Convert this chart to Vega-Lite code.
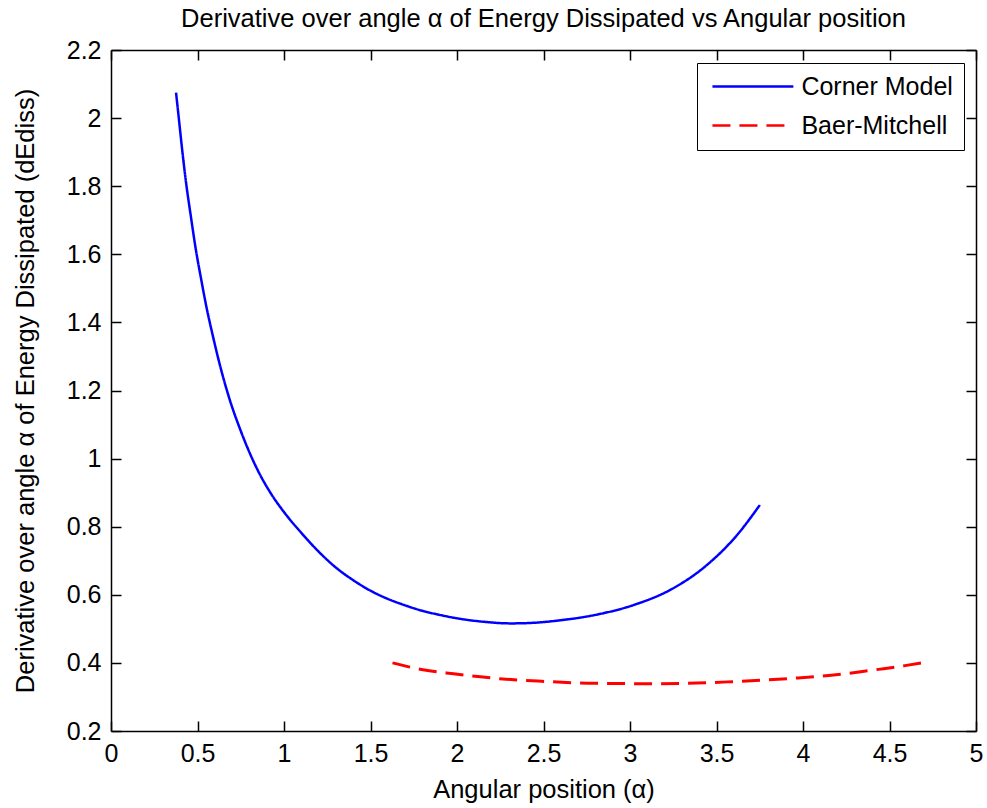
{
  "$schema": "https://vega.github.io/schema/vega-lite/v6.json",
  "width": 865,
  "height": 681,
  "autosize": {"type": "none"},
  "padding": {"left": 111, "top": 50, "right": 11, "bottom": 77},
  "background": "white",
  "title": {
    "text": "Derivative over angle α of Energy Dissipated vs Angular position",
    "fontSize": 25.5,
    "font": "Liberation Sans",
    "fontWeight": "normal",
    "color": "black",
    "anchor": "middle",
    "frame": "group",
    "offset": 6
  },
  "config": {
    "view": {"stroke": null},
    "axis": {
      "domainColor": "black",
      "domainWidth": 1.5,
      "tickColor": "black",
      "tickWidth": 1.5,
      "tickSize": -10,
      "labelFont": "Liberation Sans",
      "labelFontSize": 25,
      "labelColor": "black",
      "labelPadding": 20,
      "labelFlush": false,
      "labelOverlap": false,
      "titleFont": "Liberation Sans",
      "titleFontSize": 25.5,
      "titleFontWeight": "normal",
      "titleColor": "black",
      "grid": false
    },
    "legend": {
      "orient": "none",
      "legendX": 586,
      "legendY": 13,
      "strokeColor": "black",
      "fillColor": "white",
      "padding": 11,
      "rowPadding": 13,
      "symbolType": "M-5,0H5",
      "symbolSize": 262,
      "symbolStrokeWidth": 2.5,
      "symbolOffset": 32.4,
      "labelFont": "Liberation Sans",
      "labelFontSize": 25,
      "labelColor": "black",
      "labelOffset": 36,
      "cornerRadius": 0
    }
  },
  "data": {
    "values": [
      {"series": "Corner Model", "x": 0.376, "y": 2.075},
      {"series": "Corner Model", "x": 0.395, "y": 1.985},
      {"series": "Corner Model", "x": 0.414, "y": 1.895},
      {"series": "Corner Model", "x": 0.434, "y": 1.81},
      {"series": "Corner Model", "x": 0.462, "y": 1.71},
      {"series": "Corner Model", "x": 0.491, "y": 1.612},
      {"series": "Corner Model", "x": 0.52, "y": 1.53},
      {"series": "Corner Model", "x": 0.549, "y": 1.452},
      {"series": "Corner Model", "x": 0.588, "y": 1.362},
      {"series": "Corner Model", "x": 0.636, "y": 1.262},
      {"series": "Corner Model", "x": 0.682, "y": 1.18},
      {"series": "Corner Model", "x": 0.751, "y": 1.08},
      {"series": "Corner Model", "x": 0.848, "y": 0.966},
      {"series": "Corner Model", "x": 0.93, "y": 0.893},
      {"series": "Corner Model", "x": 1.0, "y": 0.843},
      {"series": "Corner Model", "x": 1.1, "y": 0.782},
      {"series": "Corner Model", "x": 1.2, "y": 0.727},
      {"series": "Corner Model", "x": 1.3, "y": 0.68},
      {"series": "Corner Model", "x": 1.4, "y": 0.643},
      {"series": "Corner Model", "x": 1.5, "y": 0.612},
      {"series": "Corner Model", "x": 1.6, "y": 0.588},
      {"series": "Corner Model", "x": 1.7, "y": 0.569},
      {"series": "Corner Model", "x": 1.8, "y": 0.553},
      {"series": "Corner Model", "x": 1.9, "y": 0.541},
      {"series": "Corner Model", "x": 2.0, "y": 0.531},
      {"series": "Corner Model", "x": 2.15, "y": 0.521},
      {"series": "Corner Model", "x": 2.313, "y": 0.516},
      {"series": "Corner Model", "x": 2.45, "y": 0.518},
      {"series": "Corner Model", "x": 2.578, "y": 0.524},
      {"series": "Corner Model", "x": 2.8, "y": 0.541},
      {"series": "Corner Model", "x": 3.021, "y": 0.57},
      {"series": "Corner Model", "x": 3.242, "y": 0.617},
      {"series": "Corner Model", "x": 3.441, "y": 0.686},
      {"series": "Corner Model", "x": 3.618, "y": 0.775},
      {"series": "Corner Model", "x": 3.751, "y": 0.864},
      {"series": "Baer-Mitchell", "x": 1.627, "y": 0.4},
      {"series": "Baer-Mitchell", "x": 1.803, "y": 0.38},
      {"series": "Baer-Mitchell", "x": 1.98, "y": 0.368},
      {"series": "Baer-Mitchell", "x": 2.135, "y": 0.359},
      {"series": "Baer-Mitchell", "x": 2.312, "y": 0.351},
      {"series": "Baer-Mitchell", "x": 2.489, "y": 0.346},
      {"series": "Baer-Mitchell", "x": 2.8, "y": 0.34},
      {"series": "Baer-Mitchell", "x": 3.11, "y": 0.339},
      {"series": "Baer-Mitchell", "x": 3.331, "y": 0.34},
      {"series": "Baer-Mitchell", "x": 3.596, "y": 0.345},
      {"series": "Baer-Mitchell", "x": 3.795, "y": 0.35},
      {"series": "Baer-Mitchell", "x": 3.949, "y": 0.355},
      {"series": "Baer-Mitchell", "x": 4.148, "y": 0.363},
      {"series": "Baer-Mitchell", "x": 4.303, "y": 0.372},
      {"series": "Baer-Mitchell", "x": 4.436, "y": 0.381},
      {"series": "Baer-Mitchell", "x": 4.59, "y": 0.392},
      {"series": "Baer-Mitchell", "x": 4.723, "y": 0.403}
    ]
  },
  "layer": [
    {
      "transform": [{"filter": "datum.series === 'Corner Model'"}],
      "mark": {"type": "line", "strokeWidth": 2.5, "interpolate": "monotone"},
      "encoding": {
        "x": {
          "field": "x", "type": "quantitative",
          "scale": {"domain": [0, 5], "nice": false, "zero": false},
          "axis": {"orient": "bottom", "title": "Angular position (α)", "values": [0, 0.5, 1, 1.5, 2, 2.5, 3, 3.5, 4, 4.5, 5], "format": "~g", "titlePadding": 11}
        },
        "y": {
          "field": "y", "type": "quantitative",
          "scale": {"domain": [0.2, 2.2], "nice": false, "zero": false},
          "axis": {"orient": "left", "title": "Derivative over angle  α  of Energy Dissipated (dEdiss)", "values": [0.2, 0.4, 0.6, 0.8, 1, 1.2, 1.4, 1.6, 1.8, 2, 2.2], "format": "~g", "titlePadding": 28}
        },
        "color": {
          "field": "series", "type": "nominal",
          "scale": {"domain": ["Corner Model", "Baer-Mitchell"], "range": ["#0000ff", "#ff0000"]},
          "legend": {"title": null}
        },
        "strokeDash": {
          "field": "series", "type": "nominal",
          "scale": {"domain": ["Corner Model", "Baer-Mitchell"], "range": [[1, 0], [18, 9]]},
          "legend": {"title": null}
        }
      }
    },
    {
      "transform": [{"filter": "datum.series === 'Baer-Mitchell'"}],
      "mark": {"type": "line", "strokeWidth": 3, "interpolate": "monotone"},
      "encoding": {
        "x": {
          "field": "x", "type": "quantitative",
          "scale": {"domain": [0, 5], "nice": false, "zero": false},
          "axis": {"orient": "top", "title": null, "labels": false, "values": [0, 0.5, 1, 1.5, 2, 2.5, 3, 3.5, 4, 4.5, 5]}
        },
        "y": {
          "field": "y", "type": "quantitative",
          "scale": {"domain": [0.2, 2.2], "nice": false, "zero": false},
          "axis": {"orient": "right", "title": null, "labels": false, "values": [0.2, 0.4, 0.6, 0.8, 1, 1.2, 1.4, 1.6, 1.8, 2, 2.2]}
        },
        "color": {
          "field": "series", "type": "nominal",
          "scale": {"domain": ["Corner Model", "Baer-Mitchell"], "range": ["#0000ff", "#ff0000"]},
          "legend": {"title": null}
        },
        "strokeDash": {
          "field": "series", "type": "nominal",
          "scale": {"domain": ["Corner Model", "Baer-Mitchell"], "range": [[1, 0], [18, 9]]},
          "legend": {"title": null}
        }
      }
    }
  ],
  "resolve": {"axis": {"x": "independent", "y": "independent"}}
}
